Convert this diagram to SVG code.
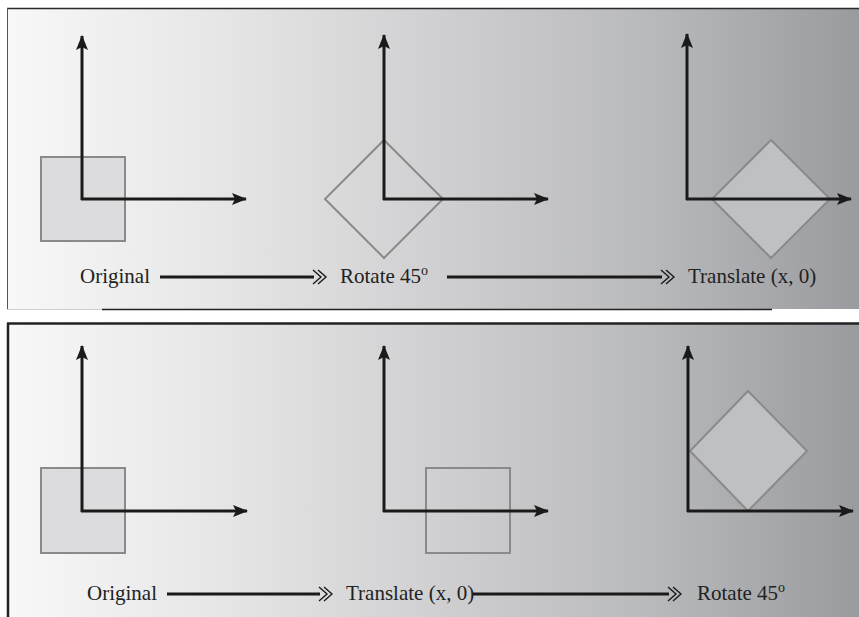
<svg xmlns="http://www.w3.org/2000/svg" width="859" height="617" viewBox="0 0 859 617">
<defs>
<linearGradient id="bg" gradientUnits="userSpaceOnUse" x1="7" y1="0" x2="859" y2="0">
<stop offset="0" stop-color="#f8f8f8"/>
<stop offset="0.25" stop-color="#e6e6e7"/>
<stop offset="0.5" stop-color="#d0d0d2"/>
<stop offset="0.75" stop-color="#b9babc"/>
<stop offset="1" stop-color="#9a9b9e"/>
</linearGradient>
<marker id="ah" markerUnits="userSpaceOnUse" markerWidth="16" markerHeight="14" refX="14" refY="7" orient="auto">
<path d="M0,1 L15,7 L0,13 L3,7 z" fill="#1a1a1a"/>
</marker>
<marker id="dbl" markerUnits="userSpaceOnUse" markerWidth="16" markerHeight="18" refX="2" refY="9" orient="auto">
<path d="M1,2 L9,9 L1,16 M6,2 L14,9 L6,16" fill="none" stroke="#1a1a1a" stroke-width="1.4"/>
</marker>
</defs>
<style>
.axis{stroke:#1a1a1a;stroke-width:3;fill:none;marker-end:url(#ah)}
.shape{stroke:#8a8a8a;stroke-width:2}
.sq{fill:#dcdcde}
.clear{fill:none}
.light{fill:#bfc0c2}
.flow{stroke:#1a1a1a;stroke-width:2.8;fill:none;marker-end:url(#dbl)}
.lbl{font-family:"Liberation Serif","Times New Roman",serif;font-size:21px;fill:#222}
</style>

<g id="panel-top">
<rect x="7" y="8" width="852" height="301" fill="url(#bg)"/>
<line x1="7" y1="8.5" x2="859" y2="8.5" stroke="#2a2a2a" stroke-width="1.5"/>
<line x1="7.5" y1="8" x2="7.5" y2="309" stroke="#555" stroke-width="1"/>
<line x1="7" y1="309.5" x2="102" y2="309.5" stroke="#cfcfcf" stroke-width="1.2"/>
<line x1="102" y1="309.5" x2="772" y2="309.5" stroke="#222" stroke-width="1.6"/>
</g>
<g id="panel-bottom">
<rect x="7" y="323" width="852" height="294" fill="url(#bg)"/>
<line x1="7" y1="323.5" x2="859" y2="323.5" stroke="#222" stroke-width="2.5"/>
<line x1="8" y1="323" x2="8" y2="617" stroke="#222" stroke-width="2.5"/>
</g>

<g id="t1">
<rect class="shape sq" x="41" y="157" width="84" height="84"/>
<line class="axis" x1="82" y1="200" x2="82" y2="36"/>
<line class="axis" x1="81" y1="199" x2="246" y2="199"/>
</g>
<g id="t2">
<polygon class="shape clear" points="384,140 443,199 384,258 325,199"/>
<line class="axis" x1="384" y1="200" x2="384" y2="35"/>
<line class="axis" x1="383" y1="199" x2="548" y2="199"/>
</g>
<g id="t3">
<polygon class="shape light" points="771,140 830,199 771,258 712,199"/>
<line class="axis" x1="687" y1="200" x2="687" y2="34"/>
<line class="axis" x1="686" y1="199" x2="851" y2="199"/>
</g>

<g id="b1">
<rect class="shape sq" x="41" y="468" width="84" height="85"/>
<line class="axis" x1="82" y1="512" x2="82" y2="346"/>
<line class="axis" x1="81" y1="511" x2="247" y2="511"/>
</g>
<g id="b2">
<rect class="shape clear" x="426" y="468" width="84" height="85"/>
<line class="axis" x1="384" y1="512" x2="384" y2="346"/>
<line class="axis" x1="383" y1="511" x2="548" y2="511"/>
</g>
<g id="b3">
<polygon class="shape light" points="748,391 807,451 748,511 690,451"/>
<line class="axis" x1="688" y1="512" x2="688" y2="346"/>
<line class="axis" x1="687" y1="511" x2="853" y2="511"/>
</g>

<g id="labels">
<text class="lbl" x="80" y="283">Original</text>
<text class="lbl" x="340" y="283">Rotate 45<tspan font-size="14" dy="-8">o</tspan></text>
<text class="lbl" x="688" y="283">Translate (x, 0)</text>
<text class="lbl" x="87" y="600">Original</text>
<text class="lbl" x="346" y="600">Translate (x, 0)</text>
<text class="lbl" x="697" y="600">Rotate 45<tspan font-size="14" dy="-8">o</tspan></text>
</g>

<g id="connectors">
<line class="flow" x1="160" y1="277" x2="314" y2="277"/>
<line class="flow" x1="447" y1="277" x2="662" y2="277"/>
<line class="flow" x1="167" y1="594" x2="320" y2="594"/>
<line class="flow" x1="473" y1="594" x2="669" y2="594"/>
</g>
</svg>
